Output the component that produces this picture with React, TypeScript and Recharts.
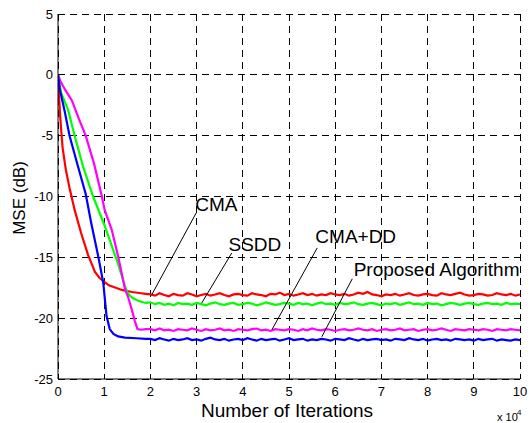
import React from "react";
import {
  LineChart,
  Line,
  XAxis,
  YAxis,
  CartesianGrid,
  ReferenceLine,
  ReferenceDot,
} from "recharts";

const FONT = "'Liberation Sans', Arial, Helvetica, sans-serif";

// x in units of 10^4 iterations, y in dB
const xTicks = [0, 1, 2, 3, 4, 5, 6, 7, 8, 9, 10];
const yTicks = [-25, -20, -15, -10, -5, 0, 5];

// transient part of each curve
const cmaHeadX = [0, 0.02, 0.04, 0.07, 0.1, 0.17, 0.25, 0.36, 0.5, 0.65, 0.8, 0.9, 1.1, 1.25, 1.4, 1.6, 1.8, 1.9];
const cmaHead = [0, -1.5, -3.0, -4.6, -6.0, -7.8, -9.3, -11.1, -13.0, -14.8, -16.2, -16.7, -17.3, -17.5, -17.7, -17.85, -17.95, -18.0];

const ssddHeadX = [0, 0.07, 0.22, 0.36, 0.54, 0.76, 1.0, 1.27, 1.38, 1.45, 1.52, 1.6, 1.7, 1.8, 1.9];
const ssddHead = [0, -1.5, -2.9, -5.0, -7.5, -10.0, -12.3, -15.2, -16.5, -17.4, -18.0, -18.3, -18.5, -18.65, -18.75];

const cmaddHeadX = [0, 0.05, 0.15, 0.3, 0.45, 0.6, 0.78, 0.95, 1.01, 1.16, 1.3, 1.45, 1.52, 1.59, 1.66, 1.72, 1.8, 1.9];
const cmaddHead = [0, -0.5, -1.2, -2.1, -3.6, -5.0, -7.3, -10.0, -11.1, -12.7, -14.9, -17.6, -18.3, -19.2, -20.2, -20.9, -20.95, -20.9];

const propHeadX = [0, 0.04, 0.15, 0.25, 0.43, 0.6, 0.72, 0.87, 0.98, 1.05, 1.12, 1.2, 1.3, 1.45, 1.7, 1.9];
const propHead = [0, -1.2, -3.1, -5.0, -7.5, -9.8, -12.2, -14.9, -17.1, -19.8, -20.9, -21.3, -21.5, -21.6, -21.65, -21.7];

// steady state, sampled every 0.1 from 2.0 to 10.0
const tailX = [
  2.0, 2.1, 2.2, 2.3, 2.4, 2.5, 2.6, 2.7, 2.8, 2.9,
  3.0, 3.1, 3.2, 3.3, 3.4, 3.5, 3.6, 3.7, 3.8, 3.9,
  4.0, 4.1, 4.2, 4.3, 4.4, 4.5, 4.6, 4.7, 4.8, 4.9,
  5.0, 5.1, 5.2, 5.3, 5.4, 5.5, 5.6, 5.7, 5.8, 5.9,
  6.0, 6.1, 6.2, 6.3, 6.4, 6.5, 6.6, 6.7, 6.8, 6.9,
  7.0, 7.1, 7.2, 7.3, 7.4, 7.5, 7.6, 7.7, 7.8, 7.9,
  8.0, 8.1, 8.2, 8.3, 8.4, 8.5, 8.6, 8.7, 8.8, 8.9,
  9.0, 9.1, 9.2, 9.3, 9.4, 9.5, 9.6, 9.7, 9.8, 9.9,
  10.0,
];

const cmaTail = [
  -18.05, -18.15, -17.95, -18.1, -18.2, -18.0, -18.1, -18.15, -17.95, -18.05,
  -18.2, -18.1, -18.0, -18.15, -18.05, -17.95, -18.1, -18.2, -18.05, -18.0,
  -18.1, -18.15, -17.95, -18.05, -18.1, -18.2, -18.0, -18.05, -17.9, -18.1,
  -18.0, -18.15, -18.05, -17.95, -18.1, -18.0, -18.15, -18.05, -18.1, -17.95,
  -18.05, -18.1, -18.0, -18.15, -18.05, -17.9, -18.0, -17.85, -18.05, -18.1,
  -18.2, -18.05, -18.1, -18.0, -18.15, -18.05, -17.95, -18.1, -18.15, -18.05,
  -18.0, -18.1, -18.15, -17.95, -18.05, -18.1, -18.0, -17.9, -18.05, -18.15,
  -18.1, -18.0, -18.05, -18.15, -18.1, -17.95, -18.05, -18.1, -18.0, -18.15,
  -18.05,
];

const ssddTail = [
  -18.7, -18.85, -18.75, -18.9, -18.8, -18.95, -18.75, -18.85, -18.8, -18.9,
  -18.75, -18.85, -18.95, -18.8, -18.7, -18.85, -18.9, -18.8, -18.75, -18.9,
  -18.85, -18.75, -18.8, -18.95, -18.85, -18.7, -18.8, -18.9, -18.85, -18.75,
  -18.8, -18.9, -18.75, -18.85, -18.8, -18.95, -18.8, -18.7, -18.85, -18.8,
  -18.9, -18.75, -18.85, -18.8, -18.7, -18.85, -18.9, -18.8, -18.75, -18.85,
  -18.95, -18.8, -18.85, -18.75, -18.9, -18.8, -18.7, -18.85, -18.8, -18.9,
  -18.75, -18.85, -18.8, -18.95, -18.85, -18.75, -18.8, -18.9, -18.8, -18.75,
  -18.85, -18.9, -18.8, -18.75, -18.85, -18.8, -18.9, -18.75, -18.85, -18.8,
  -18.85,
];

const cmaddTail = [
  -20.9, -21.0, -20.85, -21.0, -20.95, -21.05, -20.9, -20.95, -21.0, -20.85,
  -20.95, -21.05, -20.9, -21.0, -20.95, -20.85, -21.0, -20.95, -21.05, -20.9,
  -20.95, -21.0, -20.9, -20.85, -21.0, -20.95, -21.05, -20.9, -20.95, -21.0,
  -20.9, -20.95, -21.05, -20.9, -21.0, -20.85, -20.95, -21.0, -20.9, -20.95,
  -21.05, -20.95, -20.9, -21.0, -20.95, -20.85, -20.95, -21.0, -20.9, -21.05,
  -20.95, -20.9, -21.0, -20.95, -20.85, -21.0, -20.95, -20.9, -21.05, -20.95,
  -20.9, -21.0, -20.95, -20.85, -20.95, -21.05, -20.9, -20.95, -21.0, -20.9,
  -20.95, -21.0, -20.9, -20.95, -21.05, -20.9, -20.95, -21.0, -20.9, -20.95,
  -21.0,
];

const propTail = [
  -21.7, -21.8, -21.65, -21.75, -21.85, -21.7, -21.8, -21.75, -21.65, -21.8,
  -21.75, -21.85, -21.7, -21.6, -21.75, -21.8, -21.7, -21.85, -21.75, -21.7,
  -21.8, -21.65, -21.75, -21.85, -21.7, -21.8, -21.75, -21.7, -21.85, -21.75,
  -21.65, -21.8, -21.75, -21.7, -21.85, -21.75, -21.8, -21.7, -21.75, -21.85,
  -21.7, -21.75, -21.8, -21.65, -21.75, -21.85, -21.7, -21.8, -21.75, -21.7,
  -21.8, -21.75, -21.85, -21.7, -21.75, -21.8, -21.65, -21.75, -21.8, -21.7,
  -21.85, -21.75, -21.7, -21.8, -21.75, -21.85, -21.7, -21.75, -21.8, -21.75,
  -21.85, -21.7, -21.8, -21.75, -21.7, -21.85, -21.75, -21.8, -21.85, -21.75,
  -21.8,
];

// annotation labels: text anchor (left, baseline) and pointer segment
const labelNames = ["CMA", "SSDD", "CMA+DD", "Proposed Algorithm"];
const labelX = [2.97, 3.69, 5.57, 6.4];
const labelY = [-11.2, -14.5, -13.8, -16.55];
const pointerFrom = [
  [2.99, -11.36],
  [3.76, -14.65],
  [5.61, -14.23],
  [6.37, -16.76],
];
const pointerTo = [
  [2.03, -18.07],
  [3.11, -18.76],
  [4.63, -20.95],
  [5.71, -21.53],
];

function build(hx: number[], hy: number[], ty: number[]) {
  const pts = hx.map((x, i) => ({ x, y: hy[i] }));
  return pts.concat(tailX.map((x, i) => ({ x, y: ty[i] })));
}

const series = [
  { name: "CMA", color: "#ff0000", data: build(cmaHeadX, cmaHead, cmaTail) },
  { name: "SSDD", color: "#00ff00", data: build(ssddHeadX, ssddHead, ssddTail) },
  { name: "CMA+DD", color: "#ff00ff", data: build(cmaddHeadX, cmaddHead, cmaddTail) },
  { name: "Proposed", color: "#0000ff", data: build(propHeadX, propHead, propTail) },
];

export default function App() {
  return (
    <div style={{ position: "absolute", left: 0, top: 0, width: 531, height: 423, background: "#fff" }}>
      <LineChart width={531} height={423} margin={{ top: 14, right: 11, bottom: 14, left: 0 }}>
        <CartesianGrid stroke="#000" strokeDasharray="7 5" shapeRendering="crispEdges" />
        <XAxis
          type="number"
          dataKey="x"
          domain={[0, 10]}
          ticks={xTicks}
          height={30}
          tickSize={0}
          tickMargin={8}
          axisLine={{ stroke: "#000" }}
          tick={{ fontSize: 13, fill: "#000", fontFamily: FONT }}
          allowDataOverflow
        />
        <YAxis
          type="number"
          domain={[-25, 5]}
          ticks={yTicks}
          width={58}
          tickSize={0}
          tickMargin={5}
          axisLine={{ stroke: "#000" }}
          tick={{ fontSize: 13, fill: "#000", fontFamily: FONT }}
          allowDataOverflow
        />
        {series.map((s) => (
          <Line
            key={s.name}
            data={s.data}
            dataKey="y"
            type="linear"
            stroke={s.color}
            strokeWidth={2.2}
            dot={false}
            isAnimationActive={false}
          />
        ))}
        {labelNames.map((name, i) => (
          <ReferenceLine
            key={"l" + name}
            segment={[
              { x: pointerFrom[i][0], y: pointerFrom[i][1] },
              { x: pointerTo[i][0], y: pointerTo[i][1] },
            ]}
            stroke="#000"
            strokeWidth={1}
          />
        ))}
        {labelNames.map((name, i) => (
          <ReferenceDot
            key={"t" + name}
            x={labelX[i]}
            y={labelY[i]}
            r={0}
            shape={(p: any) => (
              <text x={p.cx} y={p.cy} fontSize={19} fontFamily={FONT} fill="#000">
                {name}
              </text>
            )}
          />
        ))}
      </LineChart>
      <svg
        width={531}
        height={423}
        style={{ position: "absolute", left: 0, top: 0, pointerEvents: "none" }}
      >
        <text x={287} y={417} textAnchor="middle" fontSize={19} fontFamily={FONT} fill="#000">
          Number of Iterations
        </text>
        <text
          x={25}
          y={198}
          textAnchor="middle"
          fontSize={17}
          fontFamily={FONT}
          fill="#000"
          transform="rotate(-90 25 198)"
        >
          MSE (dB)
        </text>
        <text x={497} y={421} fontSize={11} fontFamily={FONT} fill="#000">
          x 10
        </text>
        <text x={517} y={415} fontSize={8} fontFamily={FONT} fill="#000">
          4
        </text>
      </svg>
    </div>
  );
}
